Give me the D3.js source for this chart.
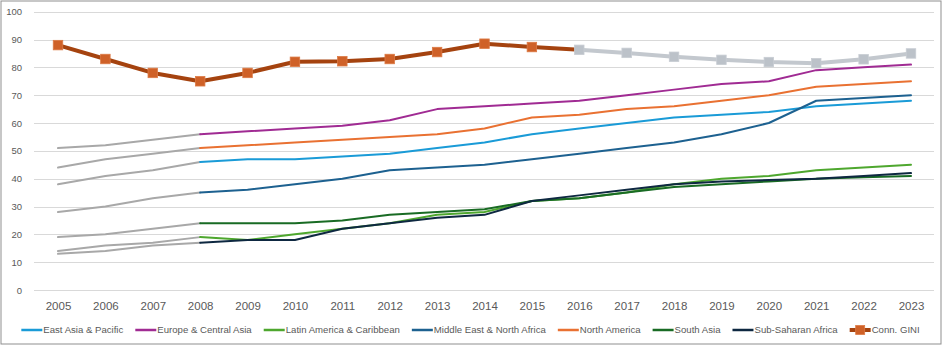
<!DOCTYPE html>
<html>
<head>
<meta charset="utf-8">
<script src="https://cdn.jsdelivr.net/npm/d3@7"></script>
<style>
  html, body { margin: 0; padding: 0; background: #fff; }
  svg { display: block; font-family: "Liberation Sans", Arial, sans-serif; }
</style>
</head>
<body>
<svg id="chart" width="945" height="346"></svg>
<script>
// Years on the category axis
const years = [2005, 2006, 2007, 2008, 2009, 2010, 2011, 2012, 2013, 2014,
               2015, 2016, 2017, 2018, 2019, 2020, 2021, 2022, 2023];

// Regional index values, one array per region
const eastAsiaPacific   = [38, 41, 43, 46, 47, 47, 48, 49, 51, 53, 56, 58, 60, 62, 63, 64, 66, 67, 68];
const europeCentralAsia = [51, 52, 54, 56, 57, 58, 59, 61, 65, 66, 67, 68, 70, 72, 74, 75, 79, 80, 81];
const latinAmerica      = [14, 16, 17, 19, 18, 20, 22, 24, 27, 28, 32, 33, 35, 38, 40, 41, 43, 44, 45];
const middleEastNA      = [28, 30, 33, 35, 36, 38, 40, 43, 44, 45, 47, 49, 51, 53, 56, 60, 68, 69, 70];
const northAmerica      = [44, 47, 49, 51, 52, 53, 54, 55, 56, 58, 62, 63, 65, 66, 68, 70, 73, 74, 75];
const southAsia         = [19, 20, 22, 24, 24, 24, 25, 27, 28, 29, 32, 33, 35, 37, 38, 39, 40, 40.5, 41];
const subSaharanAfrica  = [13, 14, 16, 17, 18, 18, 22, 24, 26, 27, 32, 34, 36, 38, 39, 39.5, 40, 41, 42];

// Connecticut GINI
const connGini = [88, 83, 78, 75, 78, 82, 82.2, 83, 85.5, 88.5, 87.3, 86.3, 85.2, 83.8, 82.7, 81.9, 81.5, 82.9, 85];

// Axis ticks
const yTicks = [0, 10, 20, 30, 40, 50, 60, 70, 80, 90, 100];

// Years before this one are drawn muted for the regions; GINI turns muted from this year
const regionStartYear = 2008;
const giniMutedYear = 2016;

const regions = [
  { name: "East Asia & Pacific",        values: eastAsiaPacific,   color: "#1a9bd7" },
  { name: "Europe & Central Asia",      values: europeCentralAsia, color: "#a02b93" },
  { name: "Latin America & Caribbean",  values: latinAmerica,      color: "#4ea72e" },
  { name: "Middle East & North Africa", values: middleEastNA,      color: "#1d6190" },
  { name: "North America",              values: northAmerica,      color: "#e97132" },
  { name: "South Asia",                 values: southAsia,         color: "#196b24" },
  { name: "Sub-Saharan Africa",         values: subSaharanAfrica,  color: "#0e2841" }
];

const svg = d3.select("#chart");
const textColor = "#595959";

// Chart frame
svg.append("rect")
  .attr("x", 1).attr("y", 1).attr("width", 940).attr("height", 343)
  .attr("fill", "#fff").attr("stroke", "#8f8f8f").attr("stroke-width", 1);

const x = d3.scalePoint().domain(years).range([58, 911]);
const y = d3.scaleLinear().domain([0, 100]).range([290, 11.7]);
const plotLeft = 34, plotRight = 934;

// Gridlines
svg.append("g").selectAll("line").data(yTicks).join("line")
  .attr("x1", plotLeft).attr("x2", plotRight)
  .attr("y1", d => Math.round(y(d)) + 0.5).attr("y2", d => Math.round(y(d)) + 0.5)
  .attr("stroke", "#d9d9d9").attr("stroke-width", 1);

// Y axis labels
const yAxis = svg.append("g")
  .attr("transform", `translate(${plotLeft},0)`)
  .call(d3.axisLeft(y).tickValues(yTicks).tickSize(0).tickPadding(12));
yAxis.select(".domain").remove();
yAxis.selectAll("text").attr("fill", textColor)
  .style("font-size", "9.5px").style("font-family", "Liberation Sans, Arial, sans-serif");

// X axis labels
const xAxis = svg.append("g")
  .attr("transform", "translate(0,290)")
  .call(d3.axisBottom(x).tickSize(0).tickPadding(12).tickFormat(d3.format("d")));
xAxis.select(".domain").remove();
xAxis.selectAll("text").attr("fill", textColor)
  .style("font-size", "11.5px").style("font-family", "Liberation Sans, Arial, sans-serif");

const line = d3.line().x(d => x(d.year)).y(d => y(d.value));
const pts = vals => years.map((yr, i) => ({ year: yr, value: vals[i] }));

// Regional lines: muted lead-in, then the region colour
const lines = svg.append("g").attr("fill", "none").attr("stroke-linejoin", "round").attr("stroke-linecap", "round");
regions.forEach(r => {
  const p = pts(r.values);
  lines.append("path")
    .attr("d", line(p.filter(d => d.year <= regionStartYear)))
    .attr("stroke", "#a8a8a8").attr("stroke-width", 2);
  lines.append("path")
    .attr("d", line(p.filter(d => d.year >= regionStartYear)))
    .attr("stroke", r.color).attr("stroke-width", 2);
});

// GINI line with square markers
const gp = pts(connGini);
const gini = svg.append("g").attr("fill", "none").attr("stroke-linejoin", "round");
gini.append("path")
  .attr("d", line(gp.filter(d => d.year >= giniMutedYear)))
  .attr("stroke", "#c3c8ce").attr("stroke-width", 4);
gini.append("path")
  .attr("d", line(gp.filter(d => d.year <= giniMutedYear)))
  .attr("stroke", "#a5430f").attr("stroke-width", 4);
const ms = 9.5;
svg.append("g").selectAll("rect").data(gp).join("rect")
  .attr("x", d => x(d.year) - ms / 2).attr("y", d => y(d.value) - ms / 2)
  .attr("width", ms).attr("height", ms)
  .attr("fill", d => d.year >= giniMutedYear ? "#bcc2c9" : "#cf6128")
  .attr("stroke", d => d.year >= giniMutedYear ? "#c8cdd3" : "#dc7a45")
  .attr("stroke-width", 0.8);

// Legend
const legendItems = regions.map(r => ({ name: r.name, color: r.color, marker: false }))
  .concat([{ name: "Conn. GINI", color: "#a5430f", marker: true }]);
const legend = svg.append("g");
const swatchW = 21, gap = 12, legendY = 330;
let cx = 0;
legendItems.forEach(item => {
  const g = legend.append("g").attr("transform", `translate(${cx},0)`);
  g.append("line").attr("x1", 0).attr("x2", swatchW)
    .attr("y1", legendY).attr("y2", legendY)
    .attr("stroke", item.color).attr("stroke-width", item.marker ? 4 : 2.5);
  if (item.marker) {
    g.append("rect").attr("x", swatchW / 2 - 4.5).attr("y", legendY - 4.5)
      .attr("width", 9).attr("height", 9).attr("fill", "#cf6128").attr("stroke", "#dc7a45").attr("stroke-width", 0.8);
  }
  const t = g.append("text").attr("x", swatchW + 1).attr("y", legendY + 3.4)
    .attr("fill", textColor).style("font-size", "9.6px").text(item.name);
  cx += swatchW + 1 + t.node().getComputedTextLength() + gap;
});
const legendW = cx - gap;
legend.attr("transform", `translate(${(20 + 921) / 2 - legendW / 2},0)`);
</script>
</body>
</html>
